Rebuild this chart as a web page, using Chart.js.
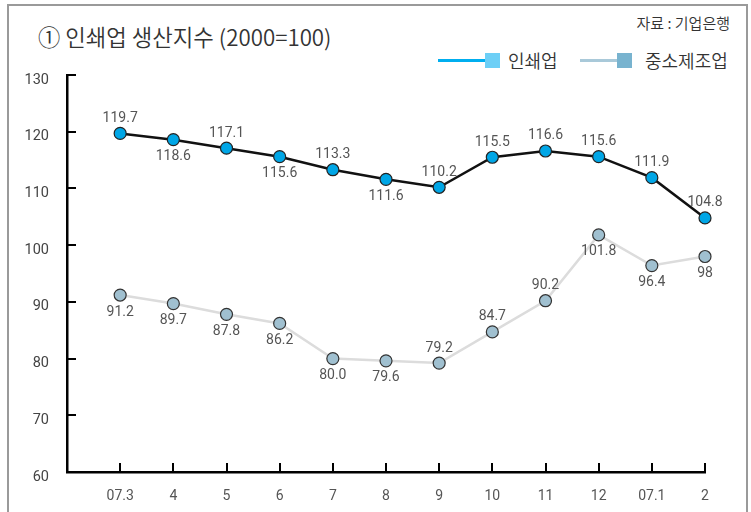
<!DOCTYPE html>
<html>
<head>
<meta charset="utf-8">
<script src="https://cdn.jsdelivr.net/npm/chart.js@4"></script>
<style>
  html, body { margin: 0; padding: 0; background: #fff; overflow: hidden; }
  #wrap { position: relative; width: 751px; height: 512px; }
  #frame { position: absolute; left: 7px; top: 4px; width: 737px; height: 520px;
           border: 2px solid #9a9a9a; border-bottom: none; }
  .txt { position: absolute; font-family: "Noto Sans CJK KR", sans-serif; color: #333; white-space: nowrap; font-weight: 350; }
  #title { left: 38px; top: 21px; font-size: 22.3px; line-height: 30px; }
  #source { right: 21px; top: 12px; font-size: 15px; line-height: 22px; }
  .leg { position: absolute; top: 48px; height: 24px; }
  .leg .ln { position: absolute; top: 11px; height: 3px; }
  .leg .sq { position: absolute; top: 5px; width: 15px; height: 15px; }
  .leg .lb { position: absolute; top: -2px; font-size: 18px; line-height: 28px; font-weight: 350; font-family: "Noto Sans CJK KR", sans-serif; color: #333; white-space: nowrap; }
  canvas { position: absolute; left: 0; top: 0; }
</style>
</head>
<body>
<div id="wrap">
  <div id="frame"></div>
  <div id="title" class="txt">① 인쇄업 생산지수 (2000=100)</div>
  <div id="source" class="txt">자료 : 기업은행</div>
  <div class="leg" style="left:438px">
    <div class="ln" style="left:0;width:48px;background:#00aeef"></div>
    <div class="sq" style="left:47px;background:#6dcff6"></div>
    <div class="lb" style="left:70px">인쇄업</div>
  </div>
  <div class="leg" style="left:580px">
    <div class="ln" style="left:0;width:38px;background:#a9c9d9"></div>
    <div class="sq" style="left:37px;background:#78b3cf"></div>
    <div class="lb" style="left:65px">중소제조업</div>
  </div>
  <canvas id="chart" width="751" height="512"></canvas>
</div>
<script>
const months = ['07.3', '4', '5', '6', '7', '8', '9', '10', '11', '12', '07.1', '2'];
const printingText = ['119.7', '118.6', '117.1', '115.6', '113.3', '111.6', '110.2', '115.5', '116.6', '115.6', '111.9', '104.8'];
const smeText = ['91.2', '89.7', '87.8', '86.2', '80.0', '79.6', '79.2', '84.7', '90.2', '101.8', '96.4', '98'];
const printing = printingText.map(Number);
const sme = smeText.map(Number);
const yTicks = [60, 70, 80, 90, 100, 110, 120, 130];

// label placement: 1 = above the point, -1 = below
const printingPos = [1, -1, 1, -1, 1, -1, 1, 1, 1, 1, 1, 1];
const smePos = [-1, -1, -1, -1, -1, -1, 1, 1, 1, -1, -1, -1];

const toPoints = arr => arr.map((v, i) => ({ x: i + 1, y: v }));

const inwardTicks = {
  id: 'inwardTicks',
  beforeDatasetsDraw(chart) {
    const { ctx, chartArea: a, scales: { x, y } } = chart;
    ctx.save();
    ctx.strokeStyle = '#000';
    ctx.lineWidth = 2;
    yTicks.forEach(v => {
      const py = Math.round(y.getPixelForValue(v));
      ctx.beginPath(); ctx.moveTo(a.left, py); ctx.lineTo(a.left + 9, py); ctx.stroke();
    });
    months.forEach((m, i) => {
      const px = Math.round(x.getPixelForValue(i + 1));
      ctx.beginPath(); ctx.moveTo(px, a.bottom); ctx.lineTo(px, a.bottom - 9); ctx.stroke();
    });
    ctx.restore();
  }
};

const valueLabels = {
  id: 'valueLabels',
  afterDatasetsDraw(chart) {
    const { ctx } = chart;
    const texts = [printingText, smeText];
    const pos = [printingPos, smePos];
    ctx.save();
    ctx.font = '14px Roboto, sans-serif';
    ctx.fillStyle = '#555';
    ctx.textAlign = 'center';
    ctx.textBaseline = 'middle';
    chart.data.datasets.forEach((ds, d) => {
      chart.getDatasetMeta(d).data.forEach((pt, i) => {
        const dy = pos[d][i] > 0 ? -15 : 17;
        ctx.fillText(texts[d][i], pt.x, pt.y + dy);
      });
    });
    ctx.restore();
  }
};

new Chart(document.getElementById('chart'), {
  type: 'line',
  data: {
    datasets: [
      {
        label: '인쇄업',
        data: toPoints(printing),
        borderColor: '#111',
        borderWidth: 2.5,
        pointRadius: 6,
        pointBackgroundColor: '#00a6e6',
        pointBorderColor: '#222',
        pointBorderWidth: 1.2,
        tension: 0,
        clip: false
      },
      {
        label: '중소제조업',
        data: toPoints(sme),
        borderColor: '#dcdcdc',
        borderWidth: 2.5,
        pointRadius: 6,
        pointBackgroundColor: '#a0c0d0',
        pointBorderColor: '#333',
        pointBorderWidth: 1.2,
        tension: 0,
        clip: false
      }
    ]
  },
  options: {
    responsive: false,
    animation: false,
    layout: { padding: { left: 0, top: 75, right: 46, bottom: 0 } },
    plugins: {
      legend: { display: false },
      tooltip: { enabled: false }
    },
    scales: {
      x: {
        type: 'linear',
        min: 0,
        max: 12,
        afterFit: s => { s.height = 40; },
        afterBuildTicks: s => { s.ticks = months.map((m, i) => ({ value: i + 1 })); },
        grid: { display: false },
        border: { display: true, color: '#000', width: 2.5 },
        ticks: {
          autoSkip: false,
          maxRotation: 0,
          padding: 8,
          color: '#555',
          font: { family: 'Roboto', size: 14 },
          callback: v => months[v - 1] || ''
        }
      },
      y: {
        min: 60,
        max: 130,
        afterFit: s => { s.width = 67; },
        afterBuildTicks: s => { s.ticks = yTicks.map(v => ({ value: v })); },
        grid: { display: false },
        border: { display: true, color: '#000', width: 2.5 },
        ticks: {
          padding: 10,
          labelOffset: 5,
          color: '#444',
          font: { family: 'Roboto', size: 14.5 }
        }
      }
    }
  },
  plugins: [inwardTicks, valueLabels]
});
</script>
</body>
</html>
